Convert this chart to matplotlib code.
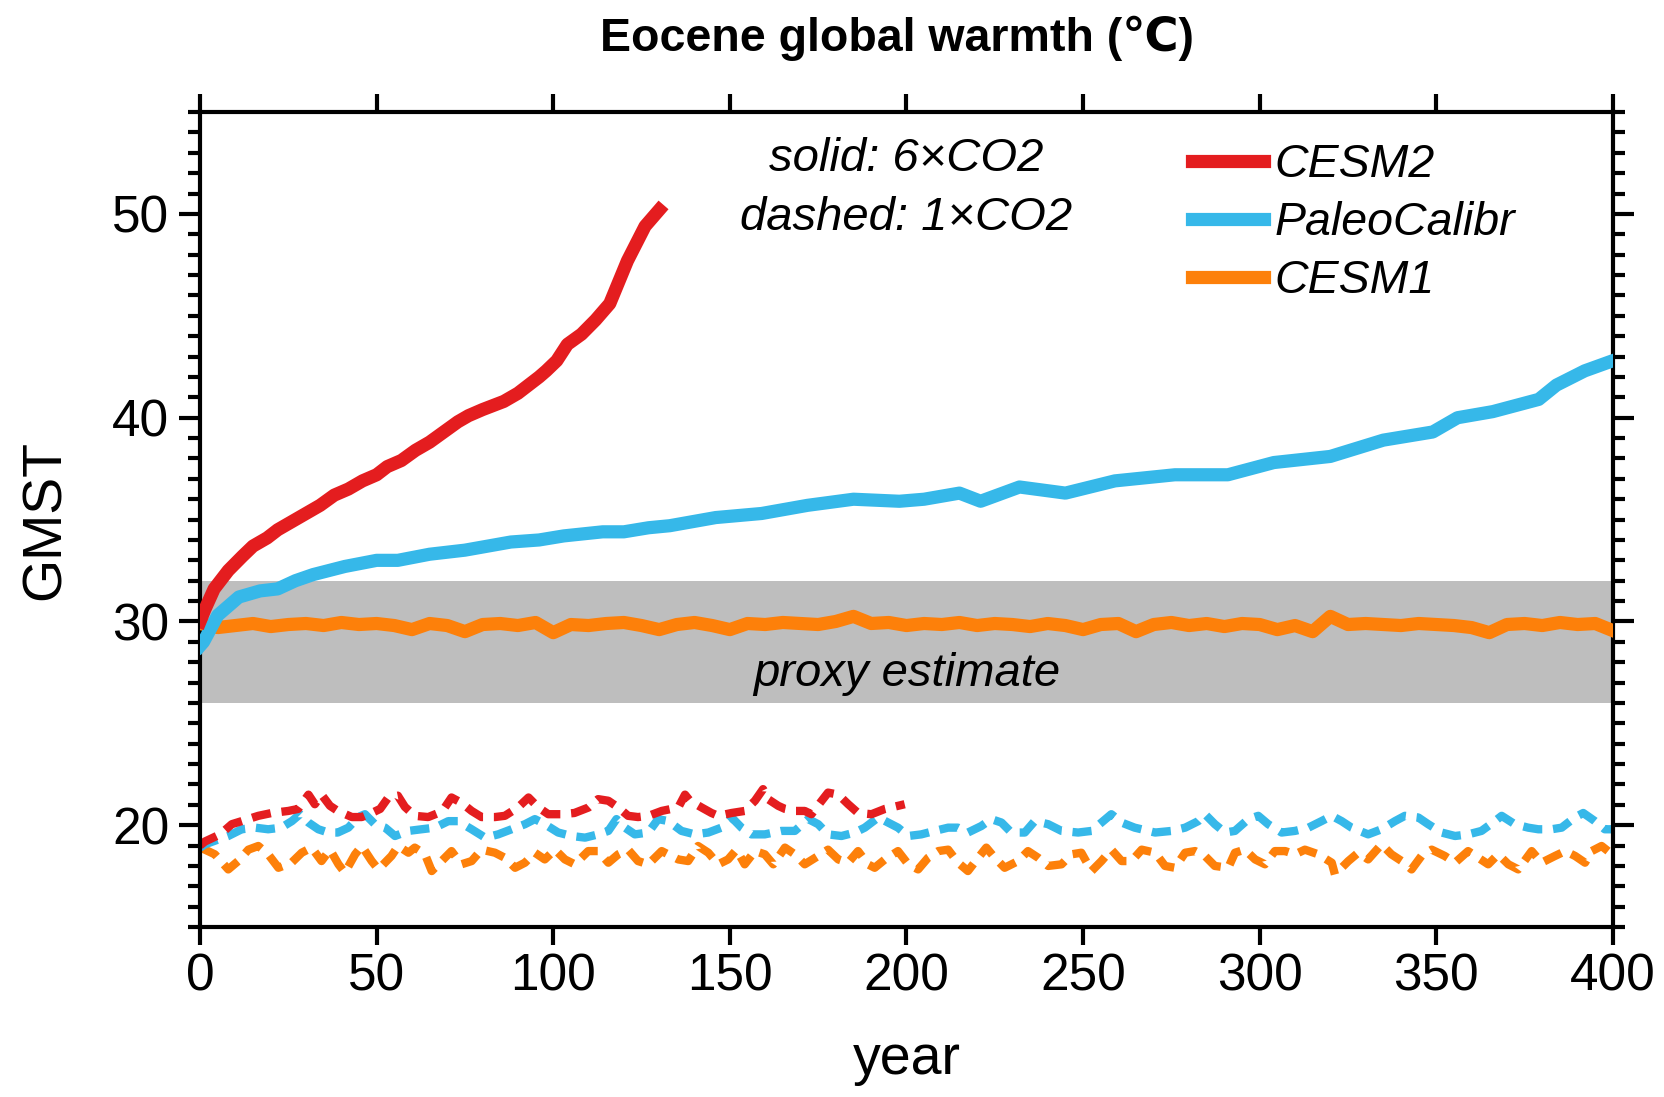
import numpy as np
import matplotlib
matplotlib.use("Agg")
import matplotlib.pyplot as plt
from matplotlib.ticker import MultipleLocator

plt.rcParams['font.family'] = ['Liberation Sans', 'DejaVu Sans']

# --- solid lines: 6xCO2 ---
cesm2_yr = [0, 1.4, 4, 8, 12, 15, 19, 22, 26, 30, 34, 38, 42, 46, 50, 53, 57, 61, 65, 69,
            73, 76, 80, 86, 90, 93, 96, 98, 101, 104, 108, 112, 116, 121, 126, 130]
cesm2_val = [30.0, 30.6, 31.6, 32.5, 33.2, 33.7, 34.1, 34.5, 34.9, 35.3, 35.7, 36.2, 36.5, 36.9,
             37.2, 37.6, 37.9, 38.4, 38.8, 39.3, 39.8, 40.1, 40.4, 40.8, 41.2, 41.6, 42.0, 42.3,
             42.8, 43.6, 44.1, 44.8, 45.6, 47.7, 49.4, 50.2]

paleo_yr = [0, 1, 5, 11, 17, 22, 27, 32, 41, 50, 56, 65, 75, 88, 96, 103, 114, 120, 127, 133,
            146, 159, 172, 185, 198, 205, 215, 221, 232, 245, 259, 276, 291, 304, 320, 335,
            349, 356, 366, 379, 384, 392, 400]
paleo_val = [28.8, 29.0, 30.3, 31.2, 31.5, 31.6, 32.0, 32.3, 32.7, 33.0, 33.0, 33.3, 33.5, 33.9,
             34.0, 34.2, 34.4, 34.4, 34.6, 34.7, 35.1, 35.3, 35.7, 36.0, 35.9, 36.0, 36.3, 35.9,
             36.6, 36.3, 36.9, 37.2, 37.2, 37.8, 38.1, 38.9, 39.3, 40.0, 40.3, 40.9, 41.6, 42.3,
             42.8]

cesm1_yr = list(range(0, 401, 5))
cesm1_val = [29.9, 29.7, 29.8, 29.9, 29.75, 29.85, 29.9, 29.8, 29.95, 29.85, 29.9, 29.8, 29.6,
             29.9, 29.8, 29.5, 29.85, 29.9, 29.8, 29.95, 29.45, 29.85, 29.8, 29.9, 29.95, 29.8,
             29.6, 29.85, 29.95, 29.8, 29.6, 29.9, 29.85, 29.95, 29.9, 29.85, 30.0, 30.25, 29.9,
             29.95, 29.8, 29.9, 29.85, 29.95, 29.8, 29.9, 29.85, 29.75, 29.9, 29.8, 29.6, 29.85,
             29.9, 29.5, 29.85, 29.95, 29.8, 29.9, 29.75, 29.9, 29.85, 29.6, 29.8, 29.5, 30.25,
             29.85, 29.9, 29.85, 29.8, 29.9, 29.85, 29.8, 29.7, 29.45, 29.85, 29.9, 29.8, 29.95,
             29.85, 29.9, 29.55]

# --- dashed lines: 1xCO2 ---
cesm2_pi_yr = [0, 1.4, 5.7, 9, 11.8, 16.5, 20.3, 25, 27.8, 30.7, 32.5, 34.4, 36.8, 39, 43, 45.8,
               48.6, 51, 53.3, 56, 58, 60.8, 64.6, 67.5, 69.3, 71.2, 74, 76.9, 79.7, 83.5, 86.3,
               90, 93, 95.8, 98.6, 102.4, 106, 110, 112.7, 115.6, 118.4, 121.2, 124, 127, 130.7,
               135.4, 137.3, 138.7, 142, 144.8, 146.7, 150.5, 154.2, 157.1, 159.4, 160.8, 163.7,
               165.6, 168.4, 171.2, 173.1, 176, 177.8, 180.7, 183.5, 186.3, 190.1, 193.9, 197.6,
               199.5]
cesm2_pi_val = [19.0, 19.2, 19.55, 20.05, 20.2, 20.46, 20.6, 20.7, 20.8, 21.5, 21.03, 21.5, 20.95,
                20.7, 20.4, 20.4, 20.6, 20.8, 21.36, 21.45, 20.9, 20.46, 20.4, 20.6, 20.87, 21.36,
                21.1, 20.7, 20.4, 20.4, 20.46, 20.87, 21.36, 20.87, 20.54, 20.54, 20.6, 20.87,
                21.28, 21.2, 20.87, 20.46, 20.4, 20.46, 20.7, 20.87, 21.5, 21.2, 20.87, 20.6,
                20.46, 20.6, 20.7, 21.2, 21.77, 21.28, 20.95, 20.8, 20.7, 20.7, 20.54, 21.2, 21.6,
                21.5, 21.03, 20.6, 20.54, 20.8, 20.95, 21.03]

paleo_pi_yr = [0, 1.4, 5.2, 8, 11.8, 15.6, 19.3, 23, 26, 28.3, 30.7, 33.5, 36.3, 39, 42, 44.8,
               46.7, 49.5, 52.4, 55.2, 59, 62.7, 66.5, 70.3, 73, 76.9, 80.7, 84.4, 88.2, 92,
               94.8, 97.6, 101.4, 105.2, 109, 112.7, 115.6, 117.9, 120.3, 123.1, 126.9, 129.7,
               132.6, 136.3, 140.1, 143.9, 147.6, 150.5, 153.3, 156.1, 159.9, 164.6, 168.4, 172.2,
               175, 177.8, 181.6, 185.4, 188.2, 192, 194.8, 197.6, 200.5, 204.2, 208, 211.8,
               214.6, 217.4, 221.2, 224, 226.9, 229.7, 233.5, 236.3, 240.1, 243.9, 248.6, 252.4,
               255.2, 258, 260.9, 264.6, 270.4, 275.1, 278.9, 282.6, 284.5, 287.3, 290.2, 293,
               296.8, 299.6, 302.4, 306.2, 310, 313.8, 317.5, 320.4, 323.2, 326, 330.7, 334.5,
               338.3, 341.1, 344.9, 347.7, 351.5, 355.3, 359, 362.8, 366.6, 368.5, 372.2, 376,
               378.9, 382.6, 385.5, 389.2, 391.6, 394.9, 397.7, 400]
paleo_pi_val = [18.9, 19.06, 19.3, 19.47, 19.8, 19.88, 19.8, 19.88, 20.2, 20.54, 20.13, 19.8,
                19.64, 19.64, 19.88, 20.4, 20.54, 20.05, 19.88, 19.47, 19.72, 19.8, 19.88, 20.2,
                20.2, 19.8, 19.39, 19.55, 19.8, 20.05, 20.3, 20.05, 19.64, 19.47, 19.39, 19.55,
                19.72, 20.3, 19.88, 19.55, 19.64, 20.3, 20.2, 19.72, 19.55, 19.64, 19.88, 20.38,
                19.88, 19.55, 19.55, 19.72, 19.72, 20.3, 20.05, 19.55, 19.47, 19.64, 19.88, 20.38,
                20.13, 19.88, 19.47, 19.55, 19.72, 19.88, 19.88, 19.64, 19.96, 20.3, 20.13, 19.64,
                19.64, 20.2, 20.05, 19.72, 19.64, 19.72, 20.13, 20.54, 20.13, 19.88, 19.64, 19.72,
                19.88, 20.2, 20.54, 20.05, 19.64, 19.72, 20.3, 20.46, 20.05, 19.64, 19.72, 19.88,
                20.2, 20.46, 20.2, 19.88, 19.55, 19.8, 20.2, 20.46, 20.38, 20.05, 19.64, 19.47,
                19.55, 19.72, 20.2, 20.46, 20.05, 19.88, 19.8, 19.8, 19.88, 20.38, 20.6, 20.2,
                19.8, 19.8]

cesm1_pi_yr = [0, 1.4, 4.2, 8, 10.8, 13.7, 16.5, 19.3, 22.2, 25.9, 28.8, 31.6, 34.4, 36.8, 39.2,
               41, 43.9, 45.8, 48.6, 50.5, 54.2, 56.1, 59, 60.8, 63.7, 65.6, 68.4, 71.2, 74, 76.9,
               79.7, 83.5, 86.3, 89.2, 92, 94.8, 97.6, 100.5, 103.3, 106.1, 109.9, 112.7, 115.6,
               118.4, 121.2, 124, 126.9, 130.7, 132.5, 135.4, 138.2, 141, 143.9, 146.7, 149.5,
               151.9, 154.2, 157.1, 159.9, 162.3, 165.6, 168.4, 171.2, 175, 177.8, 180.7, 183.5,
               186.3, 189.1, 191, 193.9, 197.6, 200.5, 203.3, 206.1, 209, 211.8, 214.6, 217.4,
               220.3, 222.6, 225, 227.8, 231.6, 234.4, 237.3, 240.1, 243.9, 246.7, 249.5, 252.4,
               255.2, 258, 260.9, 263.7, 266.6, 270.4, 273.2, 276, 278.9, 281.7, 284.5, 287.3,
               291.1, 293, 295.8, 298.7, 301.5, 304.3, 307.2, 310, 312.8, 316.6, 320.4, 321.3,
               325.1, 327.9, 330.7, 334.5, 337.3, 340.2, 343, 345.8, 348.7, 352.4, 355.3, 359,
               361.9, 364.7, 367.5, 370.4, 373.2, 377, 379.8, 383.6, 386.5, 389.3, 392.1, 394,
               396.8, 399.2]
cesm1_pi_val = [18.9, 18.8, 18.57, 17.83, 18.24, 18.8, 18.98, 18.57, 17.91, 18.16, 18.65, 18.9,
                18.24, 18.8, 18.08, 17.67, 18.57, 18.98, 18.24, 17.83, 18.49, 18.98, 18.65, 18.9,
                18.57, 17.75, 18.24, 18.73, 18.08, 18.24, 18.8, 18.65, 18.4, 17.91, 18.16, 18.65,
                18.32, 18.8, 18.32, 18.08, 18.73, 18.73, 18.16, 18.57, 18.8, 18.24, 18.08, 18.73,
                18.57, 18.32, 18.24, 18.98, 18.65, 18.08, 18.32, 18.8, 18.08, 18.73, 18.57, 18.08,
                18.9, 18.57, 18.08, 18.49, 18.8, 18.32, 18.16, 18.73, 18.08, 17.91, 18.32, 18.73,
                18.08, 17.83, 18.4, 18.73, 18.8, 18.16, 17.75, 18.4, 18.9, 18.4, 17.91, 18.24,
                18.73, 18.4, 18.0, 18.08, 18.57, 18.65, 17.75, 18.24, 18.8, 18.24, 18.24, 18.8,
                18.65, 18.0, 17.91, 18.65, 18.73, 18.49, 18.0, 17.91, 18.65, 18.8, 18.32, 18.08,
                18.73, 18.73, 18.57, 18.8, 18.57, 18.16, 17.58, 18.24, 18.65, 18.32, 19.06, 18.57,
                18.24, 17.83, 18.49, 18.8, 18.49, 18.16, 18.73, 18.4, 18.08, 18.57, 18.08, 17.83,
                18.73, 18.16, 18.49, 18.73, 18.49, 18.16, 18.73, 18.98, 18.65]

proxy_low, proxy_high = 26, 32

RED = '#e41d1f'
BLUE = '#36b8e9'
ORANGE = '#fd800a'

fig = plt.figure(figsize=(16.64, 10.97), dpi=100)
ax = fig.add_axes([0.1202, 0.1549, 0.8491, 0.7429])

ax.axhspan(proxy_low, proxy_high, color='#bebebe', lw=0, zorder=1)

dash = (0, (2.3, 1.3))
ax.plot(cesm1_pi_yr, cesm1_pi_val, color=ORANGE, lw=6, ls=dash, zorder=2)
ax.plot(paleo_pi_yr, paleo_pi_val, color=BLUE, lw=6, ls=dash, zorder=2)
ax.plot(cesm2_pi_yr, cesm2_pi_val, color=RED, lw=6, ls=dash, zorder=2)

l_o, = ax.plot(cesm1_yr, cesm1_val, color=ORANGE, lw=9.5, zorder=3, label='CESM1')
l_b, = ax.plot(paleo_yr, paleo_val, color=BLUE, lw=9.5, zorder=4, label='PaleoCalibr')
l_r, = ax.plot(cesm2_yr, cesm2_val, color=RED, lw=9.5, zorder=5, label='CESM2')

ax.set_xlim(0, 400)
ax.set_ylim(15, 55)
ax.set_xticks(range(0, 401, 50))
ax.set_yticks([20, 30, 40, 50])
ax.yaxis.set_minor_locator(MultipleLocator(1))

for sp in ax.spines.values():
    sp.set_linewidth(3)
ax.tick_params(axis='both', which='both', direction='out', width=3,
               top=True, right=True, labelsize=37)
ax.tick_params(axis='x', which='major', length=13, pad=5)
ax.tick_params(axis='y', which='major', length=15, pad=7)
ax.tick_params(axis='y', which='minor', length=8.5)

ax.set_ylabel('GMST', fontsize=40, labelpad=29)
ax.set_xlabel('year', fontsize=40, labelpad=24)
fig.suptitle('Eocene global warmth (℃)', fontsize=33.5, fontweight='bold',
             x=0.539, y=0.965, va='center')

leg = ax.legend(handles=[l_r, l_b, l_o], loc='upper left', bbox_to_anchor=(0.689, 0.985),
                frameon=False, prop={'size': 33.5, 'style': 'italic'},
                handlelength=1.55, handletextpad=0.22, labelspacing=0.3,
                borderaxespad=0)

ax.text(200, 52.7, 'solid: 6×CO2', fontsize=34, style='italic', ha='center', va='center')
ax.text(200, 49.8, 'dashed: 1×CO2', fontsize=34, style='italic', ha='center', va='center')
ax.text(200, 27.4, 'proxy estimate', fontsize=34, style='italic', ha='center', va='center',
        zorder=6)

fig.savefig('out.png', dpi=100)
